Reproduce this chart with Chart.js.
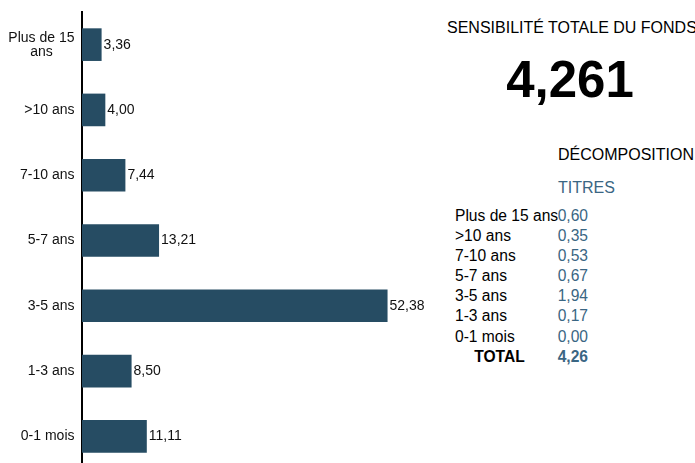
<!DOCTYPE html>
<html>
<head>
<meta charset="utf-8">
<script src="https://cdn.jsdelivr.net/npm/chart.js@4.4.1/dist/chart.umd.min.js"></script>
<style>
  html, body { margin: 0; padding: 0; background: #fff; overflow: hidden; }
  body { width: 695px; height: 463px; position: relative; font-family: "Liberation Sans", Arial, sans-serif; }
  #chartSensi { position: absolute; left: 0; top: 0; }
  .txt { position: absolute; white-space: nowrap; color: #000; }
  .hdr { font-size: 16px; line-height: 20px; }
  .big { left: 420px; width: 300px; text-align: center; top: 50px; font-size: 51px; font-weight: bold; line-height: 60px; }
  .blue { color: #3a6683; }
  #tbl { position: absolute; left: 455px; top: 206px; font-size: 15.6px; line-height: 20.1px; }
  #tbl .row { position: relative; height: 20.1px; width: 133px; }
  #tbl .lab { position: absolute; left: 0; white-space: nowrap; }
  #tbl .val { position: absolute; right: 0; color: #3a6683; }
  #tbl .tot { position: absolute; left: 0; width: 89px; text-align: center; font-weight: bold; }
</style>
</head>
<body>
<canvas id="chartSensi" width="432" height="469"></canvas>

<div class="txt hdr" style="left:447px; top:18px;">SENSIBILITÉ TOTALE DU FONDS</div>
<div class="txt big" id="totalBig"></div>
<div class="txt hdr" style="left:558px; top:145px;">DÉCOMPOSITION</div>
<div class="txt hdr blue" style="left:558px; top:178px;">TITRES</div>
<div id="tbl"></div>

<script>
// Répartition par maturité (%)
const categories = [['Plus de 15', 'ans'], '>10 ans', '7-10 ans', '5-7 ans', '3-5 ans', '1-3 ans', '0-1 mois'];
const repartition = [3.36, 4.00, 7.44, 13.21, 52.38, 8.50, 11.11];

// Décomposition de la sensibilité
const tableLabels = ['Plus de 15 ans', '>10 ans', '7-10 ans', '5-7 ans', '3-5 ans', '1-3 ans', '0-1 mois'];
const sensiTitres = [0.60, 0.35, 0.53, 0.67, 1.94, 0.17, 0.00];
const sensiTotal = 4.26;
const sensiFonds = 4.261;

const fmt = (v, d) => v.toFixed(d).replace('.', ',');

// Panneau texte
document.getElementById('totalBig').textContent = fmt(sensiFonds, 3);
const tbl = document.getElementById('tbl');
tableLabels.forEach((lab, i) => {
  const row = document.createElement('div');
  row.className = 'row';
  row.innerHTML = '<span class="lab">' + lab.replace('>', '&gt;') + '</span><span class="val">' + fmt(sensiTitres[i], 2) + '</span>';
  tbl.appendChild(row);
});
const totRow = document.createElement('div');
totRow.className = 'row';
totRow.innerHTML = '<span class="tot">TOTAL</span><span class="val" style="font-weight:bold">' + fmt(sensiTotal, 2) + '</span>';
tbl.appendChild(totRow);

// Étiquettes de l'axe des catégories (multi-lignes centrées)
const catLabels = {
  id: 'catLabels',
  afterDraw(chart) {
    const ctx = chart.ctx;
    const yScale = chart.scales.y;
    ctx.save();
    ctx.font = '14px "Liberation Sans", Arial, sans-serif';
    ctx.fillStyle = '#111';
    ctx.textBaseline = 'middle';
    ctx.textAlign = 'center';
    categories.forEach((lab, i) => {
      const lines = Array.isArray(lab) ? lab : [lab];
      const maxW = Math.max(...lines.map(l => ctx.measureText(l).width));
      const cx = 74.5 - maxW / 2;
      const y0 = yScale.getPixelForValue(i) - (lines.length - 1) * 7;
      lines.forEach((l, k) => ctx.fillText(l, cx, y0 + k * 14));
    });
    ctx.restore();
  }
};

// Valeurs en bout de barre
const barValues = {
  id: 'barValues',
  afterDatasetsDraw(chart) {
    const ctx = chart.ctx;
    const meta = chart.getDatasetMeta(0);
    ctx.save();
    ctx.font = '14px "Liberation Sans", Arial, sans-serif';
    ctx.fillStyle = '#111';
    ctx.textBaseline = 'middle';
    ctx.textAlign = 'left';
    meta.data.forEach((bar, i) => {
      ctx.fillText(fmt(repartition[i], 2), bar.x + 2, bar.y);
    });
    ctx.restore();
  }
};

new Chart(document.getElementById('chartSensi'), {
  type: 'bar',
  data: {
    labels: categories,
    datasets: [{
      data: repartition,
      backgroundColor: '#264c63',
      borderWidth: 0,
      barPercentage: 0.5,
      categoryPercentage: 1
    }]
  },
  options: {
    indexAxis: 'y',
    responsive: false,
    animation: false,
    devicePixelRatio: 1,
    layout: { padding: { top: 12, right: 0, bottom: 0, left: 0 } },
    plugins: { legend: { display: false }, tooltip: { enabled: false } },
    scales: {
      x: { display: false, min: 0, max: 60 },
      y: {
        grid: { display: false },
        border: { display: true, color: '#000', width: 2 },
        ticks: { display: false },
        afterFit(scale) { scale.width = 82; }
      }
    }
  },
  plugins: [catLabels, barValues]
});
</script>
</body>
</html>
